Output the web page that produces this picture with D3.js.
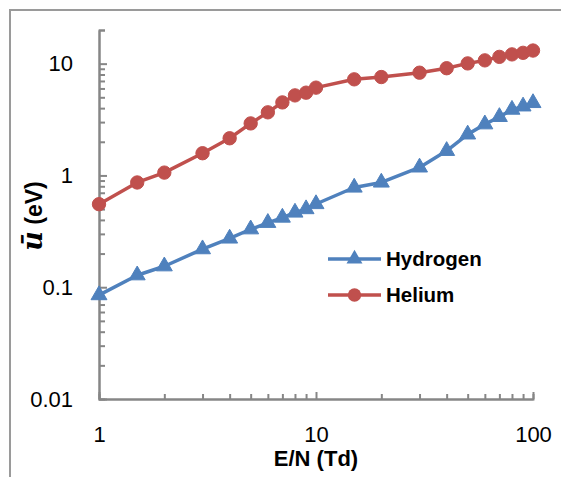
<!DOCTYPE html>
<html>
<head>
<meta charset="utf-8">
<script src="https://cdn.jsdelivr.net/npm/d3@7"></script>
<style>
  body { margin: 0; background: #fff; }
  text { font-family: "Liberation Sans", Arial, sans-serif; fill: #000; }
</style>
</head>
<body>
<div id="chart"></div>
<script>
/* DATA */
const fieldValues = [1, 1.5, 2, 3, 4, 5, 6, 7, 8, 9, 10, 15, 20, 30, 40, 50, 60, 70, 80, 90, 100];
const hydrogen = [0.085, 0.128, 0.154, 0.219, 0.273, 0.33, 0.377, 0.42, 0.466, 0.50, 0.555,
  0.78, 0.865, 1.18, 1.66, 2.33, 2.87, 3.34, 3.88, 4.15, 4.45];
const helium = [0.553, 0.865, 1.06, 1.58, 2.15, 2.92, 3.67, 4.5, 5.2, 5.5, 6.1,
  7.24, 7.59, 8.3, 9.1, 10.05, 10.7, 11.5, 12.1, 12.5, 13.1];
const xMajorTicks = [1, 10, 100];
const yMajorTicks = [0.01, 0.1, 1, 10];
const seriesNames = ["Hydrogen", "Helium"];

/* CONSTANTS */
const width = 561,
  height = 477,
  plot = { left: 99, right: 533, top: 30, bottom: 399 },
  axisColor = "#868686",
  colors = { Hydrogen: "#4F81BD", Helium: "#C0504D" };

const svg = d3.select("#chart")
  .append("svg")
  .attr("width", width)
  .attr("height", height);

// outer chart frame (cropped on the right and bottom)
svg.append("path")
  .attr("d", `M10,${height + 2} L10,10 L${width + 2},10`)
  .attr("fill", "none")
  .attr("stroke", "#9a9a9a")
  .attr("stroke-width", 2);

/* SCALES */
const xScale = d3.scaleLog().domain([1, 100]).range([plot.left, plot.right]);
const yScale = d3.scaleLog().domain([0.01, 20]).range([plot.bottom, plot.top]);

// minor ticks: 2..9 in each decade
const minorOf = (lo, hi) => {
  const out = [];
  for (let d = lo; d < hi; d *= 10)
    for (let k = 2; k <= 9; k++) if (d * k <= hi) out.push(+(d * k).toPrecision(3));
  return out;
};
const xMinor = minorOf(1, 100);
const yMinor = minorOf(0.01, 20);

/* AXES */
function styleAxis(g) {
  g.select(".domain").attr("stroke", axisColor).attr("stroke-width", 2);
  g.selectAll(".tick line").attr("stroke", axisColor).attr("stroke-width", 2);
  g.selectAll("text").attr("font-size", 22).attr("font-family", "'Liberation Sans', Arial, sans-serif");
}

// x minor
svg.append("g")
  .attr("transform", `translate(0,${plot.bottom})`)
  .call(d3.axisBottom(xScale).tickValues(xMinor).tickSize(-5).tickFormat(""))
  .call(styleAxis);
// x major
svg.append("g")
  .attr("transform", `translate(0,${plot.bottom})`)
  .call(d3.axisBottom(xScale).tickValues(xMajorTicks).tickSize(-7).tickPadding(27)
    .tickSizeOuter(0).tickFormat(d3.format("")))
  .call(styleAxis);

// y minor
svg.append("g")
  .attr("transform", `translate(${plot.left},0)`)
  .call(d3.axisLeft(yScale).tickValues(yMinor).tickSize(-6).tickFormat(""))
  .call(styleAxis);
// y major
svg.append("g")
  .attr("transform", `translate(${plot.left},0)`)
  .call(d3.axisLeft(yScale).tickValues(yMajorTicks).tickSize(-8).tickPadding(26)
    .tickSizeOuter(0).tickFormat(d => String(d)))
  .call(styleAxis);

// axis titles
svg.append("text")
  .attr("x", (plot.left + plot.right) / 2)
  .attr("y", 466)
  .attr("text-anchor", "middle")
  .attr("font-size", 22)
  .attr("font-weight", "bold")
  .text("E/N (Td)");

const yTitle = svg.append("text")
  .attr("transform", "translate(42,216) rotate(-90)")
  .attr("text-anchor", "middle")
  .attr("font-size", 23)
  .attr("font-weight", "bold");
yTitle.append("tspan")
  .attr("font-family", "'DejaVu Serif', serif")
  .attr("font-style", "italic")
  .attr("font-size", 27)
  .text("ū");
yTitle.append("tspan").text(" (eV)");

/* SERIES */
const series = [
  { name: "Hydrogen", values: hydrogen, symbol: d3.symbolTriangle, size: 110 },
  { name: "Helium", values: helium, symbol: d3.symbolCircle, size: 140 }
];

const line = d3.line()
  .x(d => xScale(d[0]))
  .y(d => yScale(d[1]));

series.forEach(s => {
  const pts = fieldValues.map((x, i) => [x, s.values[i]]);
  const g = svg.append("g").attr("class", "series");
  g.append("path")
    .datum(pts)
    .attr("d", line)
    .attr("fill", "none")
    .attr("stroke", colors[s.name])
    .attr("stroke-width", 3.5)
    .attr("stroke-linejoin", "round");
  g.selectAll(".marker")
    .data(pts)
    .join("path")
    .attr("class", "marker")
    .attr("transform", d => `translate(${xScale(d[0])},${yScale(d[1])})`)
    .attr("d", d3.symbol().type(s.symbol).size(s.size))
    .attr("fill", colors[s.name])
    .attr("stroke", colors[s.name])
    .attr("stroke-width", 1);
});

/* LEGEND */
const legend = svg.append("g").attr("transform", "translate(328,259)");
seriesNames.forEach((name, i) => {
  const s = series.find(d => d.name === name);
  const row = legend.append("g").attr("transform", `translate(0,${i * 36})`);
  row.append("line")
    .attr("x1", 0).attr("x2", 53)
    .attr("stroke", colors[name])
    .attr("stroke-width", 3.5);
  row.append("path")
    .attr("transform", "translate(26.5,0)")
    .attr("d", d3.symbol().type(s.symbol).size(s.size))
    .attr("fill", colors[name]);
  row.append("text")
    .attr("x", 58)
    .attr("y", 0)
    .attr("dy", "0.35em")
    .attr("font-size", 20.5)
    .attr("font-weight", "bold")
    .text(name);
});
</script>
</body>
</html>
